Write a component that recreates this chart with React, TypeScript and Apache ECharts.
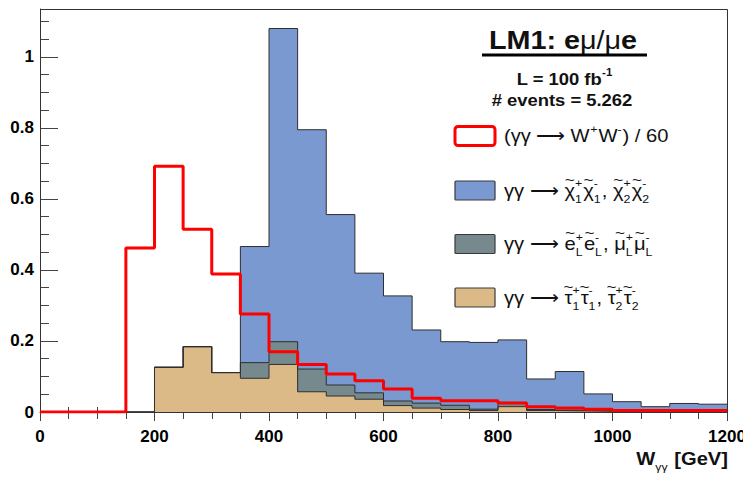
import React, { useEffect, useRef } from 'react';
import * as echarts from 'echarts';

// W_γγ histogram, 50 GeV bins from 0 to 1200 GeV (lower bin edges)
const binLow = [
  0, 50, 100, 150, 200, 250, 300, 350, 400, 450, 500, 550,
  600, 650, 700, 750, 800, 850, 900, 950, 1000, 1050, 1100, 1150,
];
const xMax = 1200;

// (γγ → W+W-) / 60
const wwOver60 = [
  0, 0, 0, 0.462, 0.692, 0.515, 0.389, 0.276, 0.17, 0.134, 0.107, 0.088,
  0.065, 0.039, 0.032, 0.032, 0.025, 0.015, 0.011, 0.008, 0.004, 0.004, 0.004, 0.004,
];
// γγ → stau pairs (bottom of the stack)
const stauPairs = [
  0, 0, 0, 0, 0.126, 0.184, 0.111, 0.095, 0.134, 0.057, 0.045, 0.036,
  0.018, 0.011, 0.007, 0.004, 0.015, 0.004, 0.003, 0.002, 0.001, 0.001, 0.001, 0.001,
];
// γγ → selectron / smuon pairs
const slepPairs = [
  0, 0, 0, 0, 0, 0, 0, 0.044, 0.064, 0.064, 0.031, 0.018,
  0.013, 0.014, 0.012, 0.004, 0.012, 0.003, 0.002, 0.002, 0.002, 0.001, 0.001, 0.001,
];
// γγ → chargino pairs (top of the stack)
const charginoPairs = [
  0, 0, 0, 0, 0, 0, 0, 0.327, 0.882, 0.674, 0.48, 0.337,
  0.296, 0.206, 0.179, 0.188, 0.176, 0.086, 0.109, 0.047, 0.026, 0.013, 0.022, 0.02,
];

const yMax = 1.135;
const titleText = { lead: 'LM1: e', mid: 'μ/μ', tail: 'e' };
const lumiText = 'L = 100 fb';
const eventsText = '# events = 5.262';
const ARROW = ' ⟶ ';

const FONT_FAMILY = '"Liberation Sans", Arial, Helvetica, sans-serif';
const INK = '#111';
const COLORS = {
  ww: '#ff0000',
  chargino: '#7b99d1',
  slep: '#768a8e',
  stau: '#dbba87',
  edge: '#2e2e2e',
};

type Tok =
  | { t: string; size?: number; bold?: boolean; tilde?: boolean }
  | { sup?: string; sub?: string; bold?: boolean };

const fontStr = (size: number, bold: boolean) =>
  `${bold ? 'bold ' : ''}${size}px ${FONT_FAMILY}`;

function makeMeasure() {
  const ctx = document.createElement('canvas').getContext('2d') as CanvasRenderingContext2D;
  return (text: string, font: string) => {
    ctx.font = font;
    return ctx.measureText(text).width;
  };
}

// Lays out a line of text with stacked super/subscripts and tildes as graphic texts
function textRow(
  measure: (t: string, f: string) => number,
  tokens: Tok[],
  x0: number,
  yc: number,
  opts: { size: number; bold: boolean; align: 'left' | 'center' | 'right'; sx: number; z: number },
) {
  const parts: { x: number; y: number; text: string; font: string; align: string; sx: number }[] = [];
  let cx = 0;
  for (const tok of tokens) {
    if ('t' in tok) {
      const size = tok.size ?? opts.size;
      const bold = tok.bold ?? opts.bold;
      const font = fontStr(size, bold);
      const w = measure(tok.t, font) * opts.sx;
      parts.push({ x: cx, y: 0, text: tok.t, font, align: 'left', sx: opts.sx });
      if (tok.tilde) {
        parts.push({
          x: cx + w / 2,
          y: -size * 0.6,
          text: '~',
          font: fontStr(Math.round(size * 0.75), false),
          align: 'center',
          sx: opts.sx * 1.1,
        });
      }
      cx += w;
    } else {
      const ss = Math.round(opts.size * 0.62);
      const font = fontStr(ss, tok.bold ?? false);
      let w = 0;
      if (tok.sup) {
        parts.push({ x: cx, y: -opts.size * 0.42, text: tok.sup, font, align: 'left', sx: opts.sx });
        w = Math.max(w, measure(tok.sup, font) * opts.sx);
      }
      if (tok.sub) {
        parts.push({ x: cx, y: opts.size * 0.45, text: tok.sub, font, align: 'left', sx: opts.sx });
        w = Math.max(w, measure(tok.sub, font) * opts.sx);
      }
      cx += w + 1;
    }
  }
  const shift = opts.align === 'left' ? 0 : opts.align === 'center' ? -cx / 2 : -cx;
  return parts.map((p) => ({
    type: 'text',
    x: x0 + shift + p.x,
    y: yc + p.y,
    scaleX: p.sx,
    z: opts.z,
    silent: true,
    style: {
      text: p.text,
      font: p.font,
      fill: INK,
      textAlign: p.align,
      align: p.align,
      textVerticalAlign: 'middle',
      verticalAlign: 'middle',
    },
  }));
}

const stepData = (vals: number[]) => [
  ...binLow.map((x, i) => [x, vals[i]]),
  [xMax, vals[vals.length - 1]],
];

export default function App() {
  const ref = useRef<HTMLDivElement>(null);

  useEffect(() => {
    if (!ref.current) return;
    const chart = echarts.init(ref.current, undefined, { renderer: 'svg' });
    const measure = makeMeasure();

    // cumulative stack tops
    const stauTop = stauPairs.map((v) => +v.toFixed(4));
    const slepTop = stauPairs.map((v, i) => +(v + slepPairs[i]).toFixed(4));
    const charginoTop = slepTop.map((v, i) => +(v + charginoPairs[i]).toFixed(4));

    const histSeries = (name: string, vals: number[], color: string) => ({
      type: 'line',
      name,
      data: stepData(vals),
      step: 'end',
      symbol: 'none',
      showSymbol: false,
      silent: true,
      z: 2,
      lineStyle: { color: COLORS.edge, width: 1 },
      areaStyle: { color, opacity: 1 },
    });

    const legendX = 504;
    const boxX = 455;
    const legendRows: { y: number; tokens: Tok[]; fill: string; stroke: string; lw: number }[] = [
      {
        y: 136,
        fill: '#ffffff',
        stroke: COLORS.ww,
        lw: 3,
        tokens: [{ t: '(γγ' + ARROW + 'W' }, { sup: '+' }, { t: 'W' }, { sup: '-' }, { t: ') / 60' }],
      },
      {
        y: 190.5,
        fill: COLORS.chargino,
        stroke: '#3a3a3a',
        lw: 1.2,
        tokens: [
          { t: 'γγ' + ARROW },
          { t: 'χ', tilde: true }, { sup: '+', sub: '1' },
          { t: 'χ', tilde: true }, { sup: '-', sub: '1' },
          { t: ', ' },
          { t: 'χ', tilde: true }, { sup: '+', sub: '2' },
          { t: 'χ', tilde: true }, { sup: '-', sub: '2' },
        ],
      },
      {
        y: 244,
        fill: COLORS.slep,
        stroke: '#3a3a3a',
        lw: 1.2,
        tokens: [
          { t: 'γγ' + ARROW },
          { t: 'e', tilde: true }, { sup: '+', sub: 'L' },
          { t: 'e', tilde: true }, { sup: '-', sub: 'L' },
          { t: ', ' },
          { t: 'μ', tilde: true }, { sup: '+', sub: 'L' },
          { t: 'μ', tilde: true }, { sup: '-', sub: 'L' },
        ],
      },
      {
        y: 297.5,
        fill: COLORS.stau,
        stroke: '#3a3a3a',
        lw: 1.2,
        tokens: [
          { t: 'γγ' + ARROW },
          { t: 'τ', tilde: true }, { sup: '+', sub: '1' },
          { t: 'τ', tilde: true }, { sup: '-', sub: '1' },
          { t: ', ' },
          { t: 'τ', tilde: true }, { sup: '+', sub: '2' },
          { t: 'τ', tilde: true }, { sup: '-', sub: '2' },
        ],
      },
    ];

    const elements: any[] = [
      // plot frame, drawn over the stacked fills
      {
        type: 'rect',
        z: 3,
        silent: true,
        shape: { x: 40.5, y: 9.5, width: 687, height: 403 },
        style: { fill: 'none', stroke: '#333', lineWidth: 1 },
      },
      // title
      ...textRow(
        measure,
        [
          { t: titleText.lead, bold: true },
          { t: titleText.mid, bold: false },
          { t: titleText.tail, bold: true },
        ],
        563, 41, { size: 25, bold: true, align: 'center', sx: 1.15, z: 10 },
      ),
      {
        type: 'line',
        z: 10,
        silent: true,
        shape: { x1: 482, y1: 55, x2: 647, y2: 55 },
        style: { stroke: '#000', lineWidth: 3 },
      },
      ...textRow(measure, [{ t: lumiText }, { sup: '-1', bold: true }], 565, 79,
        { size: 16, bold: true, align: 'center', sx: 1.15, z: 10 }),
      ...textRow(measure, [{ t: eventsText }], 562, 100.5,
        { size: 16, bold: true, align: 'center', sx: 1.15, z: 10 }),
      // x-axis title
      ...textRow(measure, [{ t: 'W', bold: true }, { sub: 'γγ' }, { t: ' [GeV]', bold: true }], 728, 459,
        { size: 18, bold: true, align: 'right', sx: 1.12, z: 10 }),
    ];

    legendRows.forEach((row) => {
      elements.push({
        type: 'rect',
        z: 10,
        silent: true,
        shape: { x: boxX, y: row.y - 9.5, width: 40, height: 19, r: row.lw > 2 ? 3 : 1 },
        style: { fill: row.fill, stroke: row.stroke, lineWidth: row.lw },
      });
      elements.push(
        ...textRow(measure, row.tokens, legendX, row.y,
          { size: 18, bold: false, align: 'left', sx: 1.12, z: 10 }),
      );
    });

    const axisLabelStyle = {
      fontSize: 17,
      fontWeight: 'bold',
      fontFamily: FONT_FAMILY,
      color: '#000',
    };

    const option: any = {
      animation: false,
      backgroundColor: '#ffffff',
      grid: { left: 40, top: 9, right: 16, bottom: 73, containLabel: false, outerBoundsMode: 'none' },
      xAxis: [
        {
          type: 'value',
          min: 0,
          max: xMax,
          interval: 200,
          position: 'bottom',
          axisLine: { show: true, onZero: false, lineStyle: { color: '#333', width: 1 } },
          axisTick: { show: true, inside: false, length: 9, lineStyle: { color: '#444' } },
          minorTick: { show: true, splitNumber: 4, length: 7, lineStyle: { color: '#444' } },
          splitLine: { show: false },
          axisLabel: { ...axisLabelStyle, margin: 16, formatter: (v: number) => String(v) },
        },
        {
          type: 'value',
          min: 0,
          max: xMax,
          interval: 50,
          position: 'bottom',
          axisLine: { show: false },
          axisTick: { show: true, inside: true, length: 5, lineStyle: { color: '#444' } },
          axisLabel: { show: false },
          splitLine: { show: false },
        },
      ],
      yAxis: [
        {
          type: 'value',
          min: 0,
          max: yMax,
          interval: 0.2,
          position: 'left',
          axisLine: { show: true, onZero: false, lineStyle: { color: '#333', width: 1 } },
          axisTick: { show: true, inside: true, length: 18, lineStyle: { color: '#444' } },
          splitLine: { show: false },
          axisLabel: {
            ...axisLabelStyle,
            margin: 6,
            formatter: (v: number) => {
              const k = v / 0.2;
              if (Math.abs(k - Math.round(k)) > 1e-6) return '';
              return String(Math.round(v * 10) / 10);
            },
          },
        },
        {
          type: 'value',
          min: 0,
          max: yMax,
          interval: 0.05,
          position: 'left',
          axisLine: { show: false },
          axisTick: { show: true, inside: true, length: 9, lineStyle: { color: '#444' } },
          axisLabel: { show: false },
          splitLine: { show: false },
        },
      ],
      series: [
        histSeries('chargino', charginoTop, COLORS.chargino),
        histSeries('slepton', slepTop, COLORS.slep),
        histSeries('stau', stauTop, COLORS.stau),
        {
          type: 'line',
          name: 'WW',
          data: stepData(wwOver60),
          step: 'end',
          symbol: 'none',
          showSymbol: false,
          silent: true,
          z: 4,
          lineStyle: { color: COLORS.ww, width: 3 },
        },
      ],
      graphic: { elements },
    };

    chart.setOption(option);
    return () => chart.dispose();
  }, []);

  return (
    <div
      ref={ref}
      style={{ position: 'fixed', left: 0, top: 0, width: 743, height: 485, background: '#fff' }}
    />
  );
}
